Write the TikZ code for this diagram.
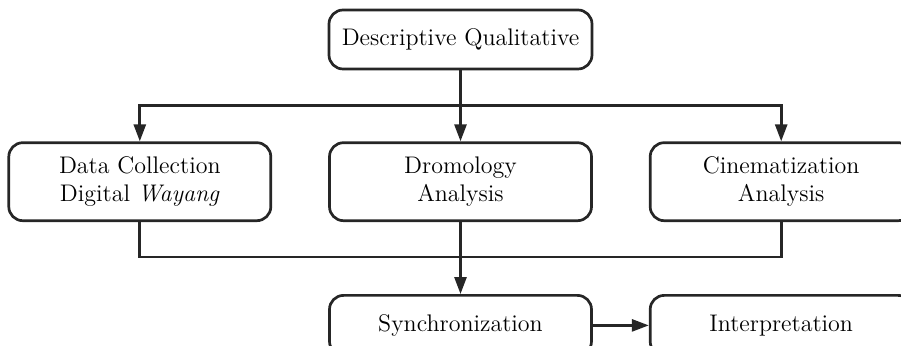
\documentclass[tikz,border=0pt]{standalone}
\usepackage{tikz}
\usetikzlibrary{arrows.meta,positioning}

\begin{document}
\begin{tikzpicture}[
  node distance=35.5pt and 28pt,
  font=\fontsize{12}{13.8}\selectfont,
  line width=1.35pt,
  box/.style={rectangle,rounded corners=7pt,draw=black!85,align=center,minimum width=131pt,minimum height=39pt,inner sep=2pt},
  flat/.style={box,minimum height=30pt},
  arr/.style={-{Triangle[length=8.5pt,width=6pt]},draw=black!85},
  wire/.style={draw=black!85}
]
\useasboundingbox (0,0) rectangle (450.5pt,-173pt);
\node[flat,minimum height=29.5pt,minimum width=131.5pt] (desc) at (230.25pt,-19.75pt) {Descriptive Qualitative};
\node[box,below=of desc] (dromo) {Dromology\\Analysis};
\node[box,left=of dromo] (data) {Data Collection\\Digital \textit{Wayang}};
\node[box,right=of dromo] (cine) {Cinematization\\Analysis};
\node[flat,below=36pt of dromo] (sync) {Synchronization};
\node[flat,right=of sync] (interp) {Interpretation};

\coordinate[below=17.75pt of desc.south] (split);
\coordinate[below=17.5pt of dromo.south] (join);

\draw[arr] (desc)--(dromo);
\draw[arr] (split) -| (data);
\draw[arr] (split) -| (cine);
\draw[wire] (data.south) |- (join);
\draw[wire] (cine.south) |- (join);
\draw[arr] (dromo)--(sync);
\draw[arr] (sync)--(interp);
\end{tikzpicture}
\end{document}
